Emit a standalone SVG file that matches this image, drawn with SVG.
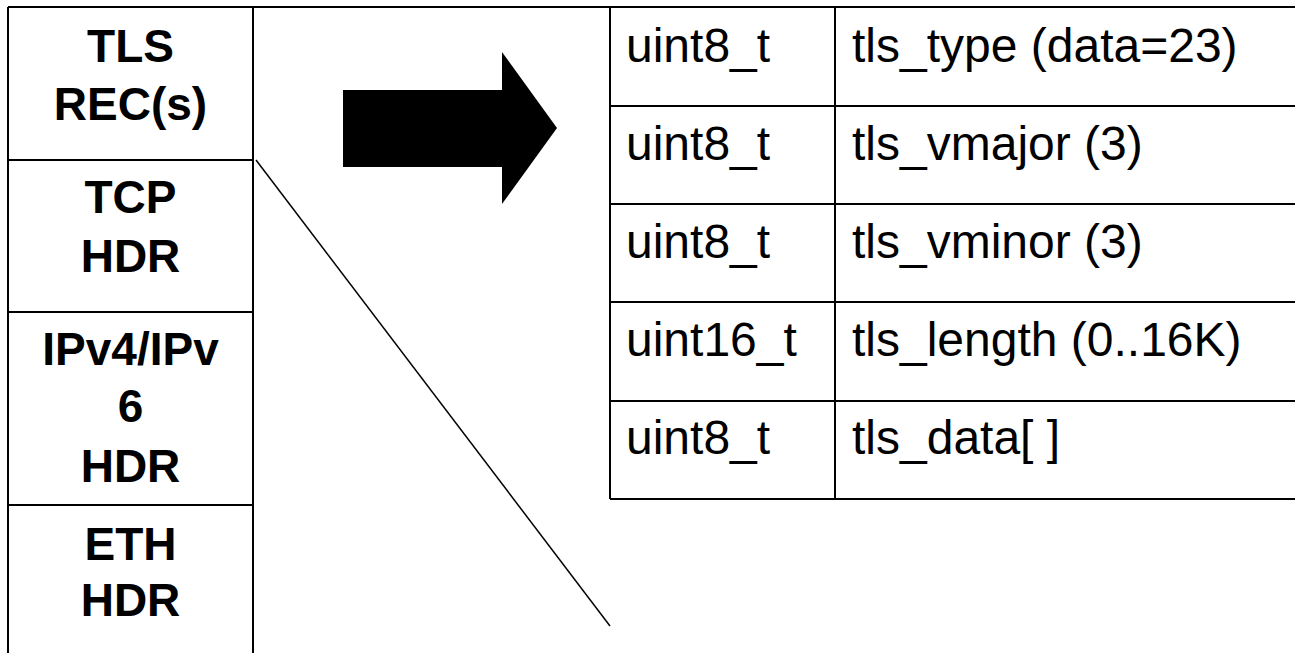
<svg xmlns="http://www.w3.org/2000/svg" width="1295" height="653" viewBox="0 0 1295 653">
<style>
.ln{stroke:#000;stroke-width:2;fill:none}
.bt{font-family:"Liberation Sans",Arial,sans-serif;font-weight:bold;font-size:46px;text-anchor:middle;fill:#000}
.rt{font-family:"Liberation Sans",Arial,sans-serif;font-size:48px;fill:#000}
</style>
<rect width="1295" height="653" fill="#fff"/>
<g id="frame">
<line class="ln" x1="8" y1="7" x2="1295" y2="7"/>
</g>
<g id="stack">
<line class="ln" x1="8" y1="7" x2="8" y2="653"/>
<line class="ln" x1="253" y1="7" x2="253" y2="653"/>
<line class="ln" x1="8" y1="160" x2="253" y2="160"/>
<line class="ln" x1="8" y1="312" x2="253" y2="312"/>
<line class="ln" x1="8" y1="505" x2="253" y2="505"/>
</g>
<g id="tls-rec"><text class="bt" x="130.5" y="62">TLS</text><text class="bt" x="130.5" y="120">REC(s)</text></g>
<g id="tcp-hdr"><text class="bt" x="130.5" y="213">TCP</text><text class="bt" x="130.5" y="272">HDR</text></g>
<g id="ip-hdr"><text class="bt" x="130.5" y="365">IPv4/IPv</text><text class="bt" x="130.5" y="422">6</text><text class="bt" x="130.5" y="482">HDR</text></g>
<g id="eth-hdr"><text class="bt" x="130.5" y="560">ETH</text><text class="bt" x="130.5" y="616">HDR</text></g>
<g id="arrow"><polygon points="343,90 502,90 502,52 557,128 502,204 502,167 343,167" fill="#000"/></g>
<g id="table">
<line class="ln" x1="610" y1="7" x2="610" y2="499"/>
<line class="ln" x1="835" y1="7" x2="835" y2="499"/>
<line class="ln" x1="610" y1="106" x2="1295" y2="106"/>
<line class="ln" x1="610" y1="204" x2="1295" y2="204"/>
<line class="ln" x1="610" y1="302" x2="1295" y2="302"/>
<line class="ln" x1="610" y1="401" x2="1295" y2="401"/>
<line class="ln" x1="610" y1="499" x2="1295" y2="499"/>
<text class="rt" x="626" y="62">uint8_t</text><text class="rt" x="852" y="62">tls_type (data=23)</text>
<text class="rt" x="626" y="160">uint8_t</text><text class="rt" x="852" y="160">tls_vmajor (3)</text>
<text class="rt" x="626" y="258">uint8_t</text><text class="rt" x="852" y="258">tls_vminor (3)</text>
<text class="rt" x="626" y="356">uint16_t</text><text class="rt" x="852" y="356">tls_length (0..16K)</text>
<text class="rt" x="626" y="454">uint8_t</text><text class="rt" x="852" y="454">tls_data[ ]</text>
</g>
<g id="connectors">
<line x1="256" y1="160" x2="610" y2="626" stroke="#000" stroke-width="1.5"/>
</g>
</svg>
